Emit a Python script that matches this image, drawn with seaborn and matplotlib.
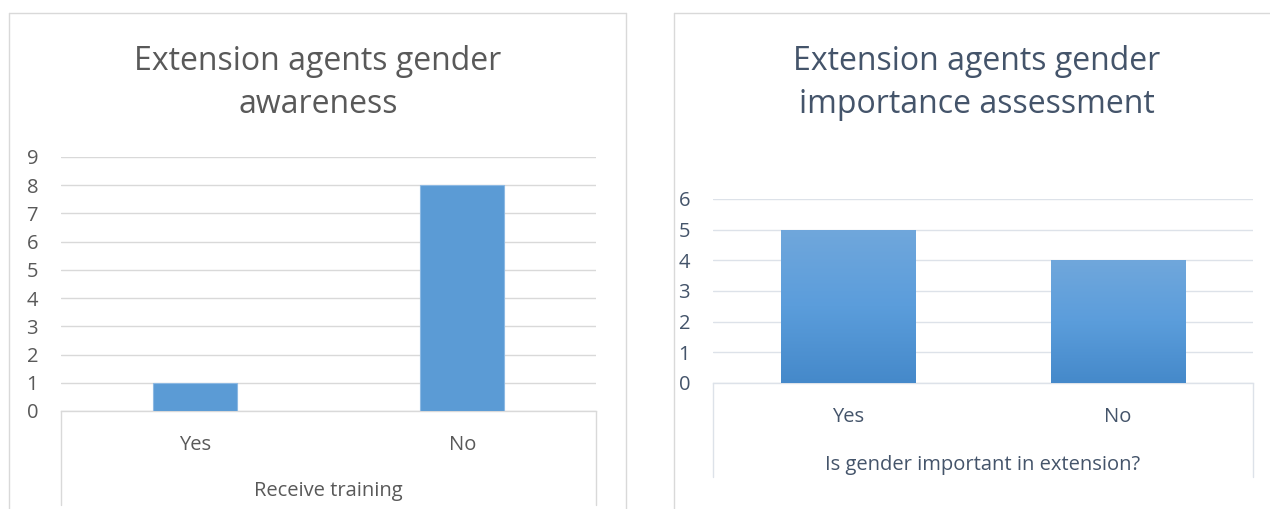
import numpy as np
import pandas as pd
import matplotlib
matplotlib.use("Agg")
import matplotlib.pyplot as plt
import seaborn as sns
from matplotlib.lines import Line2D

# --- data -------------------------------------------------------------
training_categories = ["Yes", "No"]
training_counts = [1, 8]
training_ticks = list(range(0, 10))

importance_categories = ["Yes", "No"]
importance_counts = [5, 4]
importance_ticks = list(range(0, 7))

left_title = "Extension agents gender\nawareness"
left_xlabel = "Receive training"
right_title = "Extension agents gender\nimportance assessment"
right_xlabel = "Is gender important in extension?"

# --- style ------------------------------------------------------------
sns.set_theme(style="white")
plt.rcParams["font.family"] = ["Open Sans", "DejaVu Sans"]

W, H = 1270, 509
fig = plt.figure(figsize=(W / 100, H / 100), dpi=100)
fig.patch.set_facecolor("white")
PX = 72 / 100  # points per pixel


def fx(px):
    return px / W


def fy(py):
    return 1 - py / H


def frame(x0, x1, y0, y1, color):
    # chart-area border: top and both sides
    for xs, ys in (([x0, x1], [y0, y0]), ([x0, x0], [y0, y1]), ([x1, x1], [y0, y1])):
        fig.add_artist(Line2D([fx(v) for v in xs], [fy(v) for v in ys],
                              color=color, lw=1.0, transform=fig.transFigure))


def panel(rect, cats, vals, ticks, width, text_color, grid_color, box_bottom,
          bar_color, edge_color):
    x0, x1, ytop, ybot = rect
    ax = fig.add_axes([fx(x0), fy(ybot), fx(x1) - fx(x0), fy(ytop) - fy(ybot)])
    df = pd.DataFrame({"cat": cats, "val": vals})
    sns.barplot(data=df, x="cat", y="val", ax=ax, width=width, color=bar_color,
                edgecolor=edge_color, linewidth=0.8, saturation=1, zorder=3)
    ax.set_xlim(-0.5, len(cats) - 0.5)
    ax.set_ylim(ticks[0], ticks[-1])
    ax.set_yticks(ticks)
    ax.set_yticklabels([str(t) for t in ticks])
    ax.set_xlabel("")
    ax.set_ylabel("")
    for s in ("top", "right", "left"):
        ax.spines[s].set_visible(False)
    ax.spines["bottom"].set_color(grid_color)
    ax.spines["bottom"].set_linewidth(1.0)
    ax.yaxis.grid(True, color=grid_color, lw=1.0, zorder=0)
    ax.set_axisbelow(True)
    ax.tick_params(axis="y", length=0, pad=23 * PX, labelsize=14.5, labelcolor=text_color)
    ax.tick_params(axis="x", length=0, pad=24 * PX, labelsize=14.5, labelcolor=text_color)
    # category axis box sides
    depth = (box_bottom - ybot) / (ybot - ytop)
    for xa in (0, 1):
        ax.plot([xa, xa], [0, -depth], transform=ax.transAxes, color=grid_color,
                lw=1.0, clip_on=False)
    return ax


# left chart
frame(9, 626, 13, 520, "#D9D9D9")
axL = panel((61, 596, 157, 411), training_categories, training_counts, training_ticks,
            0.314, "#595959", "#D9D9D9", 505, "#5B9BD5", "#8DB9E3")
fig.text(fx(318), fy(113), left_title, ha="center", va="baseline", fontsize=23,
         color="#595959", linespacing=1.4)
fig.text(fx(328), fy(491), left_xlabel, ha="center", va="center", fontsize=14.5,
         color="#595959")

# right chart
frame(674, 1300, 13, 520, "#D9D9D9")
axR = panel((713, 1253, 199, 383), importance_categories, importance_counts,
            importance_ticks, 0.5, "#44546A", "#DDE2E9", 477, "#5B9BD5", "none")
# vertical gradient fill on each bar
grad = np.linspace(0, 1, 256).reshape(-1, 1)
cmap = matplotlib.colors.LinearSegmentedColormap.from_list(
    "bar_grad", ["#4589CA", "#5B9DDB", "#70A7DC"])
for p in list(axR.patches):
    bx, by = p.get_x(), p.get_y()
    bw, bh = p.get_width(), p.get_height()
    im = axR.imshow(grad, cmap=cmap, aspect="auto", origin="lower",
                    extent=[bx, bx + bw, by, by + bh], zorder=4)
    im.set_clip_path(p)
axR.set_xlim(-0.5, 1.5)
axR.set_ylim(importance_ticks[0], importance_ticks[-1])
fig.text(fx(977), fy(113), right_title, ha="center", va="baseline", fontsize=23,
         color="#44546A", linespacing=1.4)
fig.text(fx(983), fy(465), right_xlabel, ha="center", va="center", fontsize=14.5,
         color="#44546A")

fig.savefig("out.png", dpi=100, facecolor="white")
